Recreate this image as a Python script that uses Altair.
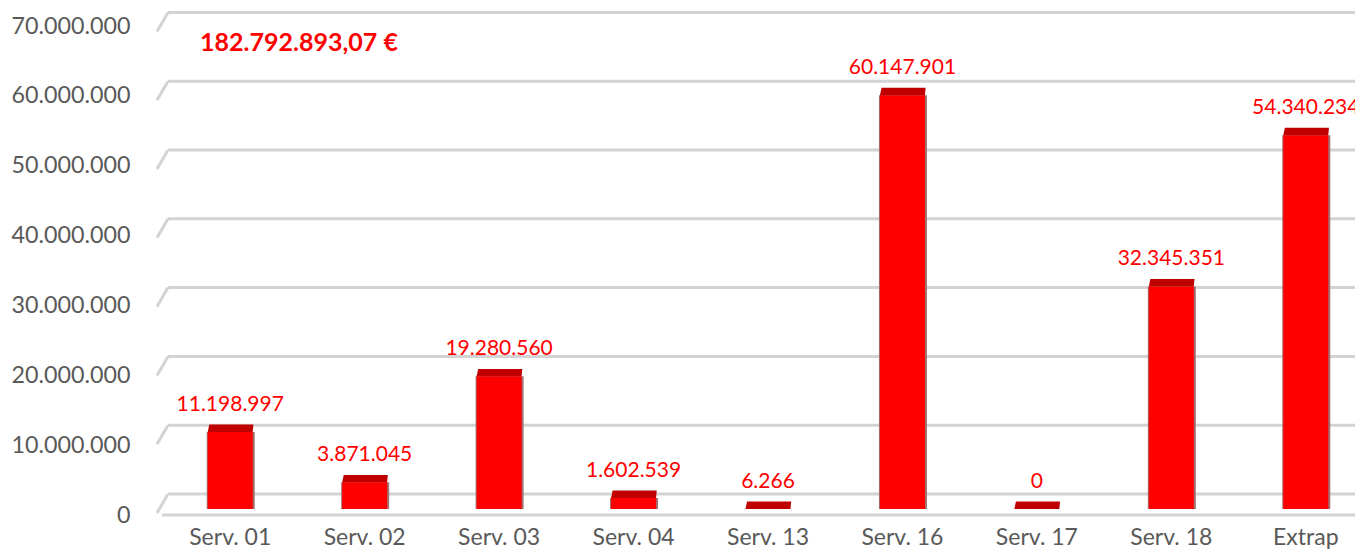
import altair as alt
import pandas as pd

categories = ["Serv. 01", "Serv. 02", "Serv. 03", "Serv. 04", "Serv. 13",
              "Serv. 16", "Serv. 17", "Serv. 18", "Extrap"]
values = [11198997, 3871045, 19280560, 1602539, 6266, 60147901, 0, 32345351, 54340234]
tick_values = [0, 10000000, 20000000, 30000000, 40000000, 50000000, 60000000, 70000000]
total_label = "182.792.893,07 €"


def fmt(v):
    return f"{v:,}".replace(",", ".")


bars_df = pd.DataFrame({"cat": categories, "v": values, "label": [fmt(v) for v in values]})
grid_df = pd.DataFrame({"v": tick_values})
floor_df = pd.DataFrame({"v": [0]})
title_df = pd.DataFrame({"t": [total_label]})

FONT = "Lato"
RED = "#ff0000"
CAP = "#c00000"
EDGE = "#a07070"
GRID = "#d3d3d3"
GREY_TXT = "#595959"

x_scale = alt.Scale(domain=categories, range=[0, 1210], paddingInner=0.665, paddingOuter=0.3325)
bar_y = alt.Scale(domain=[-872000, 70203000], nice=False, zero=False)
front_y = alt.Scale(domain=[0, 70000000], nice=False, zero=False)

x_axis = alt.Axis(title=None, labelAngle=0, domain=False, ticks=False,
                  labelPadding=11, labelFontSize=23, labelColor=GREY_TXT,
                  labelFont=FONT)
x_enc = alt.X("cat:N", scale=x_scale, sort=categories, axis=x_axis)
y_bar = alt.Y("v:Q", scale=bar_y, axis=None)

grid = alt.Chart(grid_df).mark_rule(yOffset=-15, strokeWidth=3, color=GRID).encode(
    y=y_bar, x=alt.value(5), x2=alt.value(1210))
diag = alt.Chart(grid_df).mark_rule(yOffset=-15, y2Offset=4, strokeWidth=3, color=GRID).encode(
    y=y_bar, y2=alt.Y2("v:Q"), x=alt.value(5), x2=alt.value(-6))

edge = alt.Chart(bars_df).mark_bar(width=48, xOffset=0.5, color=EDGE).encode(
    x=x_enc, y=y_bar, y2=alt.datum(0))
front = alt.Chart(bars_df).mark_bar(color=RED).encode(
    x=x_enc, y=y_bar, y2=alt.datum(0))
cap_path = "M -1 0 L -0.93 -0.33 L 1.03 -0.33 L 1 0 Z"
caps = alt.Chart(bars_df).mark_point(shape=cap_path, size=2025, filled=True, opacity=1,
                                     strokeWidth=0, color=CAP).encode(
    x=x_enc, y=y_bar)
labels = alt.Chart(bars_df).mark_text(dy=-21, baseline="alphabetic", align="center",
                                      fontSize=21, color=RED, font=FONT).encode(
    x=x_enc, y=y_bar, text="label:N")
title = alt.Chart(title_df).mark_text(fontSize=25, fontWeight="bold", color=RED, font=FONT,
                                      align="center", baseline="middle").encode(
    x=alt.value(136), y=alt.value(17), text="t:N")

layer_a = alt.layer(grid, diag, edge, front, caps, labels, title)

floor = alt.Chart(floor_df).mark_rule(strokeWidth=3, color=GRID).encode(
    y=alt.Y("v:Q", scale=front_y,
            axis=alt.Axis(values=tick_values, title=None, domain=False, ticks=False, grid=False,
                          labelPadding=33, labelFontSize=23.3, labelColor=GREY_TXT,
                          labelFont=FONT,
                          labelExpr="replace(replace(replace(format(datum.value, ',d'), ',', '.'), ',', '.'), ',', '.')")),
    x=alt.value(-1), x2=alt.value(1210))

chart = alt.layer(layer_a, floor).resolve_scale(y="independent").properties(
    width=1192, height=489,
    padding={"left": 155, "top": 26 - 8, "right": 0, "bottom": 36},
    autosize=alt.AutoSizeParams(type="none"),
).configure_view(stroke=None)

chart.save("out.html", embed_options={"renderer": "svg", "actions": False})
